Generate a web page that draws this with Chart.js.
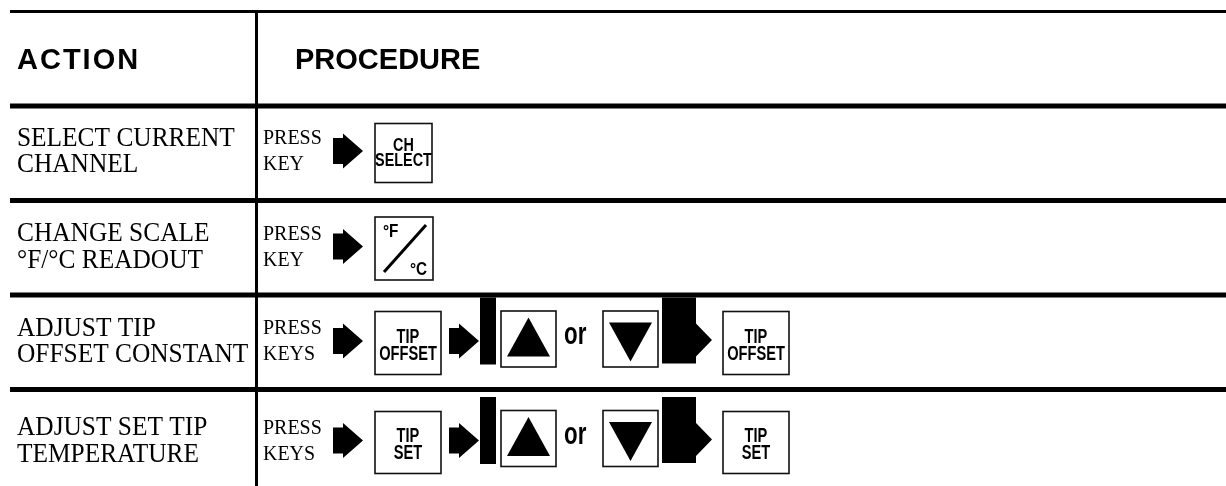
<!DOCTYPE html>
<html lang="en">
<head>
  <meta charset="UTF-8" />
  <title>Action / Procedure</title>
  <script src="https://cdn.jsdelivr.net/npm/chart.js"></script>
  <style>
    html, body { margin: 0; padding: 0; background: #fff; }
    #wrap { width: 1226px; height: 486px; }
  </style>
</head>
<body>
  <div id="wrap"><canvas id="procChart"></canvas></div>

  <script>
    // table content
    const headers = ['ACTION', 'PROCEDURE'];
    const actions = [
      ['SELECT CURRENT', 'CHANNEL'],
      ['CHANGE SCALE', '°F/°C READOUT'],
      ['ADJUST TIP', 'OFFSET CONSTANT'],
      ['ADJUST SET TIP', 'TEMPERATURE']
    ];
    const verbs = [
      ['PRESS', 'KEY'],
      ['PRESS', 'KEY'],
      ['PRESS', 'KEYS'],
      ['PRESS', 'KEYS']
    ];
    // keys pressed in order; 'UPDOWN' is the "▲ or ▼" choice
    const steps = [
      ['CH|SELECT'],
      ['°F/°C'],
      ['TIP|OFFSET', 'UPDOWN', 'TIP|OFFSET'],
      ['TIP|SET', 'UPDOWN', 'TIP|SET']
    ];

    // layout (x in px along the x scale, y offsets in px inside a row)
    const ROW_PX = 94.5;
    const RULE_LEFT = 10;
    const COL_X = 256.5;
    const rowCenter = [47, 48, 48, 53];
    const keyBox = {
      'CH|SELECT': { w: 57, h: 59, font: 18, sx: 0.8, lines: [-2.5, 12.5] },
      '°F/°C': { w: 58, h: 63 },
      'TIP|OFFSET': { w: 66, h: 63, font: 19.5, sx: 0.75, lines: [-0.5, 16.5] },
      'TIP|SET': { w: 66, h: 62, font: 19.5, sx: 0.75, lines: [-1, 16] }
    };

    function arrow(ctx, x, y) {
      ctx.beginPath();
      ctx.moveTo(x, y - 13);
      ctx.lineTo(x + 10, y - 13);
      ctx.lineTo(x + 10, y - 17.5);
      ctx.lineTo(x + 30, y);
      ctx.lineTo(x + 10, y + 17.5);
      ctx.lineTo(x + 10, y + 13);
      ctx.lineTo(x, y + 13);
      ctx.closePath();
      ctx.fill();
    }

    function squeezedText(ctx, text, x, y, font, sx, align) {
      ctx.save();
      ctx.font = font;
      ctx.textAlign = align || 'left';
      ctx.translate(x, y);
      ctx.scale(sx, 1);
      ctx.fillText(text, 0, 0);
      ctx.restore();
    }

    function drawKey(ctx, name, x, cy) {
      const k = keyBox[name];
      ctx.lineWidth = 1.6;
      ctx.strokeStyle = '#111';
      ctx.strokeRect(x, cy - k.h / 2, k.w, k.h);
      if (name === '°F/°C') {
        ctx.lineWidth = 3;
        ctx.strokeStyle = '#000';
        ctx.beginPath();
        ctx.moveTo(x + 9, cy + k.h / 2 - 8);
        ctx.lineTo(x + k.w - 7, cy - k.h / 2 + 8);
        ctx.stroke();
        squeezedText(ctx, '°F', x + 8, cy - 11.5, 'bold 18px "Liberation Sans"', 0.85);
        squeezedText(ctx, '°C', x + 35, cy + 26, 'bold 18px "Liberation Sans"', 0.85);
      } else {
        const parts = name.split('|');
        parts.forEach((t, j) => {
          squeezedText(ctx, t, x + k.w / 2, cy + k.lines[j], 'bold ' + k.font + 'px "Liberation Sans"', k.sx, 'center');
        });
      }
      return x + k.w;
    }

    function drawChoice(ctx, x, cy) {
      // left bar of the bracket
      ctx.fillRect(x + 1, cy - 45.5, 16, 67);
      x += 22;
      // up key
      ctx.lineWidth = 1.6;
      ctx.strokeStyle = '#111';
      ctx.strokeRect(x, cy - 32, 55, 56);
      ctx.beginPath();
      ctx.moveTo(x + 6, cy + 13.5);
      ctx.lineTo(x + 49, cy + 13.5);
      ctx.lineTo(x + 27.5, cy - 25.5);
      ctx.closePath();
      ctx.fill();
      x += 55;
      squeezedText(ctx, 'or', x + 8, cy + 1, 'bold 31px "Liberation Sans"', 0.72);
      x += 47;
      // down key
      ctx.strokeRect(x, cy - 32, 55, 56);
      ctx.beginPath();
      ctx.moveTo(x + 6, cy - 20.5);
      ctx.lineTo(x + 49, cy - 20.5);
      ctx.lineTo(x + 27.5, cy + 18.5);
      ctx.closePath();
      ctx.fill();
      x += 59;
      // right block of the bracket with its arrow head
      ctx.fillRect(x, cy - 45.5, 34, 66);
      ctx.beginPath();
      ctx.moveTo(x + 34, cy - 19.5);
      ctx.lineTo(x + 50, cy - 3);
      ctx.lineTo(x + 34, cy + 13.5);
      ctx.closePath();
      ctx.fill();
      return x + 50;
    }

    const tablePlugin = {
      id: 'procTable',
      afterDraw(chart) {
        const ctx = chart.ctx;
        const xs = chart.scales.x;
        const ys = chart.scales.y;
        const X = v => xs.getPixelForValue(v);
        const at = (row, off) => ys.getPixelForValue(row + off / ROW_PX);
        const bottom = chart.chartArea.bottom;

        ctx.save();
        ctx.fillStyle = '#000';
        ctx.textBaseline = 'alphabetic';

        // rules
        for (let r = 0; r <= actions.length; r++) {
          const t = r === 0 ? 3 : 5;
          ctx.fillRect(X(RULE_LEFT), at(r, 0) - t / 2, X(xs.max) - X(RULE_LEFT), t);
        }
        ctx.fillRect(X(COL_X) - 1.5, at(0, 0), 3, bottom - at(0, 0));

        // header
        ctx.font = 'bold 29px "Liberation Sans"';
        ctx.letterSpacing = '2px';
        ctx.fillText(headers[0], X(17), at(0, 57.5));
        ctx.letterSpacing = '0px';
        ctx.fillText(headers[1], X(295), at(0, 57.5));

        actions.forEach((lines, i) => {
          const cy = at(i + 1, rowCenter[i]);
          ctx.fillStyle = '#000';
          squeezedText(ctx, lines[0], X(17), cy - 7.5, '27px "Liberation Serif"', 0.94);
          squeezedText(ctx, lines[1], X(17), cy + 19, '27px "Liberation Serif"', 0.94);
          squeezedText(ctx, verbs[i][0], X(263), cy - 9, '21px "Liberation Serif"', 0.95);
          squeezedText(ctx, verbs[i][1], X(263), cy + 17, '21px "Liberation Serif"', 0.95);

          let x = X(333);
          arrow(ctx, x, cy - 2);
          x += 42;
          steps[i].forEach((s, j) => {
            if (j > 0 && s !== 'UPDOWN') x += 11;
            if (s === 'UPDOWN') {
              x = drawChoice(ctx, x, cy);
            } else {
              x = drawKey(ctx, s, x, cy);
              if (j < steps[i].length - 1) {
                arrow(ctx, x + 8, cy - 2);
                x += 38;
              }
            }
          });
        });
        ctx.restore();
      }
    };

    new Chart(document.getElementById('procChart'), {
      type: 'scatter',
      data: { datasets: [{ data: [] }] },
      options: {
        responsive: true,
        maintainAspectRatio: false,
        animation: false,
        layout: { padding: 0 },
        plugins: { legend: { display: false }, tooltip: { enabled: false } },
        scales: {
          x: { type: 'linear', display: false, min: 0, max: 1226 },
          y: { type: 'linear', display: false, reverse: true, min: -11.5 / ROW_PX, max: (486 - 11.5) / ROW_PX }
        }
      },
      plugins: [tablePlugin]
    });
  </script>
</body>
</html>
